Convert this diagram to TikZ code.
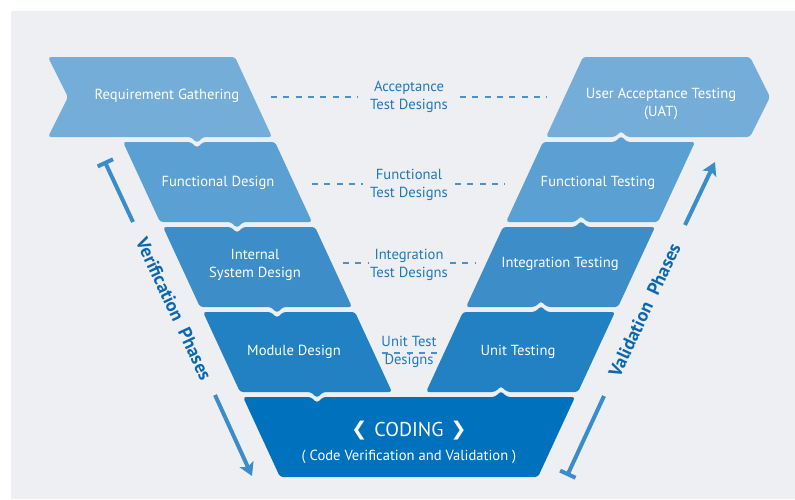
\documentclass[tikz,border=0pt]{standalone}
\usepackage{fontspec}
\setmainfont{PT Sans}
\newfontfamily\djv{DejaVu Sans}
\usetikzlibrary{arrows.meta}
\definecolor{bgc}{HTML}{EEEFF3}
\definecolor{cA}{HTML}{74AED8}
\definecolor{cB}{HTML}{5AA0D2}
\definecolor{cC}{HTML}{3C8DC8}
\definecolor{cD}{HTML}{2181C3}
\definecolor{cE}{HTML}{0071BC}
\definecolor{lblc}{HTML}{1F78BE}
\definecolor{dashc}{HTML}{4B8FCB}
\definecolor{arrc}{HTML}{3A8CCB}
\definecolor{phc}{HTML}{0A68B1}
\begin{document}
\begin{tikzpicture}[x=1pt,y=-1pt,
  boxshape/.style={rounded corners=3pt},
  boxtxt/.style={text=white, font=\fontsize{14.6}{18}\selectfont, align=center, inner sep=0pt},
  lbl/.style={text=lblc, font=\fontsize{14.6}{18}\selectfont, align=center, inner sep=0pt},
  dashl/.style={draw=dashc, line width=1.2pt, dash pattern=on 6pt off 6.3pt},
  phline/.style={draw=arrc, line width=4pt},
  phtxt/.style={text=phc, font=\bfseries\fontsize{18.5}{20}\selectfont, inner sep=0pt}
]
\useasboundingbox (0,0) rectangle (795,499);
\fill[bgc] (11,11) rectangle (795,499);

% ---- left column (verification) ----
\fill[cA, boxshape] (48,57) -- (235,57) -- (272,137) -- (203,137) -- (197,143) -- (191,137) -- (48,137) -- (68,97) -- cycle;
\fill[cB, boxshape] (123,142) -- (191,142) -- (197,148) -- (203,142) -- (275,142) -- (312,222) -- (243,222) -- (237,228) -- (231,222) -- (160,222) -- cycle;
\fill[cC, boxshape] (163,227) -- (231,227) -- (237,233) -- (243,227) -- (315,227) -- (352,307) -- (283,307) -- (277,313) -- (271,307) -- (200,307) -- cycle;
\fill[cD, boxshape] (203,312) -- (271,312) -- (277,318) -- (283,312) -- (355,312) -- (392,392) -- (323,392) -- (317,398) -- (311,392) -- (240,392) -- cycle;

% ---- right column (validation) ----
\fill[cA, boxshape] (583,57) -- (750,57) -- (770,97) -- (750,137) -- (627,137) -- (621,131) -- (615,137) -- (546,137) -- cycle;
\fill[cB, boxshape] (543,142) -- (615,142) -- (621,136) -- (627,142) -- (695,142) -- (658,222) -- (587,222) -- (581,216) -- (575,222) -- (506,222) -- cycle;
\fill[cC, boxshape] (503,227) -- (575,227) -- (581,221) -- (587,227) -- (655,227) -- (618,307) -- (547,307) -- (541,301) -- (535,307) -- (466,307) -- cycle;
\fill[cD, boxshape] (463,312) -- (535,312) -- (541,306) -- (547,312) -- (615,312) -- (578,392) -- (507,392) -- (501,386) -- (495,392) -- (426,392) -- cycle;

% ---- coding ----
\fill[cE, boxshape] (243,397) -- (311,397) -- (317,403) -- (323,397) -- (495,397) -- (501,391) -- (507,397) -- (575,397) -- (538,477) -- (280,477) -- cycle;

% ---- texts in boxes ----
\node[boxtxt] (rg) at (167,96) {Requirement Gathering};
\node[boxtxt] (fd) at (218,183) {Functional Design};
\node[boxtxt] (isd) at (255,265) {Internal\\System Design};
\node[boxtxt] (md) at (294,352) {Module Design};
\node[boxtxt] (uat) at (661,104) {User Acceptance Testing\\(UAT)};
\node[boxtxt] (ft) at (598,183) {Functional Testing};
\node[boxtxt] (it) at (560,264) {Integration Testing};
\node[boxtxt] (ut) at (518,352) {Unit Testing};
\node[boxtxt, font=\fontsize{20}{22}\selectfont] (cod) at (409,431) {{\djv\fontsize{19}{19}\selectfont\raisebox{0.5pt}{❮}}\hspace{7pt}CODING\hspace{7pt}{\djv\fontsize{19}{19}\selectfont\raisebox{0.5pt}{❯}}};
\node[boxtxt] (cvv) at (409,457) {( Code Verification and Validation )};

% ---- middle labels ----
\node[lbl] (atd) at (409,97) {Acceptance\\Test Designs};
\node[lbl] (ftd) at (409,185) {Functional\\Test Designs};
\node[lbl] (itd) at (409,265) {Integration\\Test Designs};
\node[lbl] (utd) at (409,352) {Unit Test\\Designs};

% ---- dashed connectors ----
\coordinate (a1) at (271,97);  \coordinate (a2) at (358,97);
\coordinate (a3) at (460,97);  \coordinate (a4) at (547,97);
\coordinate (b1) at (312,184); \coordinate (b2) at (363,184);
\coordinate (b3) at (455,184); \coordinate (b4) at (505,184);
\coordinate (c1) at (343,263); \coordinate (c2) at (368,263);
\coordinate (c3) at (450,263); \coordinate (c4) at (475,263);
\coordinate (d1) at (382,353); \coordinate (d2) at (438,353);
\draw[dashl] (a1) -- (a2);
\draw[dashl] (a3) -- (a4);
\draw[dashl] (b1) -- (b2);
\draw[dashl] (b3) -- (b4);
\draw[dashl] (c1) -- (c2);
\draw[dashl] (c3) -- (c4);
\draw[dashl] (d1) -- (d2);

% ---- verification phases ----
\coordinate (v0) at (104.5,161);
\coordinate (v1) at (133,222);
\coordinate (v2) at (215,395);
\coordinate (v3) at (252,476);
\draw[phline, {Bar[width=17pt]}-] (v0) -- (v1);
\draw[phline, -{Stealth[length=13pt,width=15pt,inset=3pt]}] (v2) -- (v3);
\node[phtxt, rotate=-64.9] (vp) at (174,309) {Verification\hspace{10pt}Phases};

% ---- validation phases ----
\coordinate (w0) at (567,476);
\coordinate (w1) at (604,396);
\coordinate (w2) at (685,225);
\coordinate (w3) at (715,162);
\draw[phline, {Bar[width=17pt]}-] (w0) -- (w1);
\draw[phline, -{Stealth[length=13pt,width=15pt,inset=3pt]}] (w2) -- (w3);
\node[phtxt, rotate=64.9] (wp) at (644.5,310) {Validation\hspace{10pt}Phases};
\end{tikzpicture}
\end{document}
